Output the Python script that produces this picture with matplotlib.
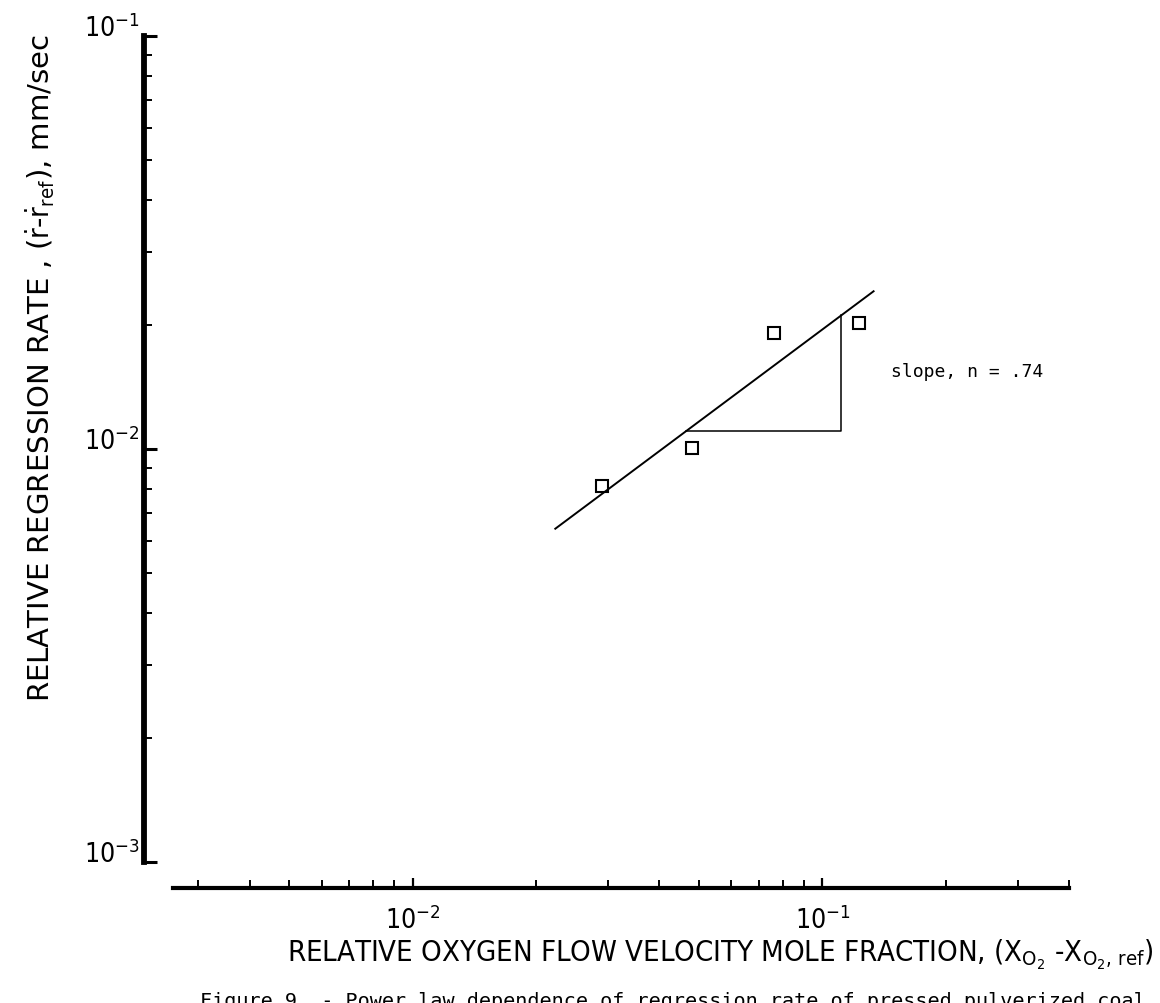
import numpy as np
import matplotlib
matplotlib.use("Agg")
import matplotlib.pyplot as plt
import matplotlib.transforms as mtransforms
from matplotlib.ticker import LogLocator, NullFormatter, FixedFormatter

# Measured relative regression rate vs relative oxygen mole fraction
x_meas = [0.0290, 0.0480, 0.0764, 0.1231]
y_meas = [0.00812, 0.01004, 0.0191, 0.0202]

# Power-law fit  r - r_ref = a * (X - X_ref)^n
slope_n = 0.74
fit_coeff = 0.107
fit_x_range = [0.0222, 0.134]
triangle_x = [0.0466, 0.1112]

x_limits = [0.0026, 0.4]
y_limits = [1e-3, 1e-1]
x_major = [1e-2, 1e-1]
x_major_labels = [r"$10^{-2}$", r"$10^{-1}$"]
y_major = [1e-3, 1e-2, 1e-1]
y_major_labels = [r"$10^{-3}$", r"$10^{-2}$", r"$10^{-1}$"]

plt.rcParams["font.family"] = ["DejaVu Sans"]
plt.rcParams["font.stretch"] = "condensed"
plt.rcParams["mathtext.fontset"] = "custom"
plt.rcParams["mathtext.rm"] = "DejaVu Sans:stretch=condensed"
plt.rcParams["mathtext.it"] = "DejaVu Sans:stretch=condensed"
plt.rcParams["mathtext.bf"] = "DejaVu Sans:stretch=condensed"

fig = plt.figure(figsize=(11.6, 10.04), dpi=100)
ax = fig.add_axes([0.1491, 0.1404, 0.7724, 0.8227])
ax.set_xscale("log")
ax.set_yscale("log")
ax.set_xlim(*x_limits)
ax.set_ylim(*y_limits)

# fitted power-law line
fx = np.array(fit_x_range)
ax.plot(fx, fit_coeff * fx ** slope_n, color="black", lw=1.4, solid_capstyle="butt")

# slope triangle
tx = np.array(triangle_x)
ty = fit_coeff * tx ** slope_n
ax.plot([tx[0], tx[1], tx[1]], [ty[0], ty[0], ty[1]], color="black", lw=1.1)

# data points
ax.plot(x_meas, y_meas, "s", mfc="none", mec="black", ms=8, mew=1.5)

ax.text(0.147, 0.01545, "slope, n = .74", family="DejaVu Sans Mono",
        fontstretch="normal", fontsize=13, ha="left", va="center")

# axes styling
for side in ("top", "right"):
    ax.spines[side].set_visible(False)
ax.spines["left"].set_position(("outward", 21))
ax.spines["bottom"].set_position(("outward", 19))
ax.spines["left"].set_linewidth(4.2)
ax.spines["bottom"].set_linewidth(3.0)

ax.xaxis.set_major_locator(plt.FixedLocator(x_major))
ax.xaxis.set_major_formatter(FixedFormatter(x_major_labels))
ax.yaxis.set_major_locator(plt.FixedLocator(y_major))
ax.yaxis.set_major_formatter(FixedFormatter(y_major_labels))
ax.xaxis.set_minor_locator(LogLocator(base=10, subs=np.arange(2, 10)))
ax.yaxis.set_minor_locator(LogLocator(base=10, subs=np.arange(2, 10)))
ax.xaxis.set_minor_formatter(NullFormatter())
ax.yaxis.set_minor_formatter(NullFormatter())

ax.tick_params(axis="x", which="major", direction="in", length=7, width=1.6,
               labelsize=19, pad=12)
ax.tick_params(axis="x", which="minor", direction="in", length=6, width=1.4)
ax.tick_params(axis="y", which="major", direction="in", length=9, width=2.2,
               labelsize=19, pad=3)
ax.tick_params(axis="y", which="minor", direction="in", length=6, width=1.4)

shift = mtransforms.ScaledTranslation(0, 8 / 72, fig.dpi_scale_trans)
for lab in ax.get_yticklabels():
    lab.set_transform(lab.get_transform() + shift)

fig.text(0.035, 1 - 368 / 1004,
         r"RELATIVE REGRESSION RATE , ($\dot{\mathrm{r}}$-$\dot{\mathrm{r}}_{\mathrm{ref}}$), mm/sec",
         rotation=90, ha="center", va="center", fontsize=21, fontstretch="normal")

fig.text(720 / 1160, (1004 - 962) / 1004,
         r"RELATIVE OXYGEN FLOW VELOCITY MOLE FRACTION, ($\mathrm{X}_{\mathrm{O}_2}$ -$\mathrm{X}_{\mathrm{O}_2,\,\mathrm{ref}}$)",
         ha="center", va="baseline", fontsize=21)

fig.text(200 / 1160, (1004 - 1007) / 1004,
         "Figure 9. - Power law dependence of regression rate of pressed pulverized coal",
         family="DejaVu Sans Mono", fontstretch="normal", fontsize=14.5,
         ha="left", va="baseline")

fig.savefig("out.png", dpi=100)
